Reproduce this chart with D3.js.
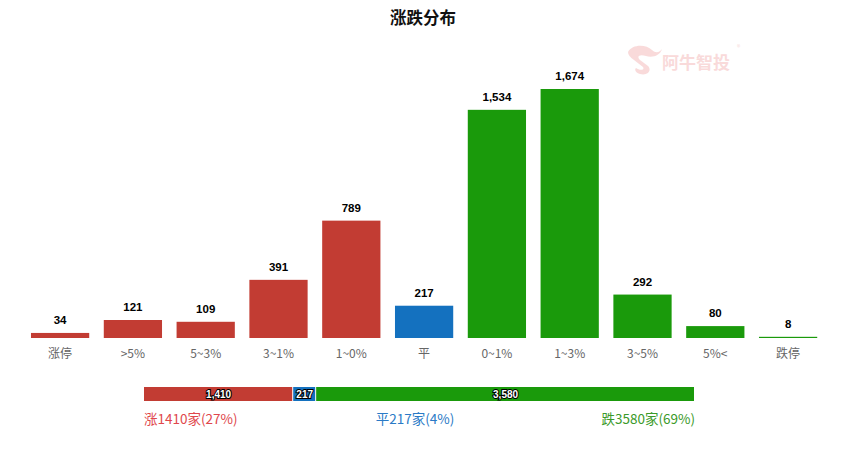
<!DOCTYPE html>
<html><head><meta charset="utf-8">
<script src="https://cdn.jsdelivr.net/npm/d3@7/dist/d3.min.js"></script>
<style>body{margin:0;background:#fff;font-family:"Noto Sans CJK SC","Microsoft YaHei",sans-serif}</style>
</head><body><svg id="c" width="866" height="451"></svg>
<script>
const categories = ["涨停", ">5%", "5~3%", "3~1%", "1~0%", "平", "0~1%", "1~3%", "3~5%", "5%<", "跌停"];
const values = [34, 121, 109, 391, 789, 217, 1534, 1674, 292, 80, 8];
const groups = ["up", "up", "up", "up", "up", "flat", "down", "down", "down", "down", "down"];
const summaryKeys = ["up", "flat", "down"];
const summaryValues = [1410, 217, 3580];
const summaryNames = ["涨", "平", "跌"];
const colors = {up: "#c23c33", flat: "#1471bf", down: "#1a9a0b"};
const textColors = {up: "#e0474c", flat: "#2a7ac6", down: "#3b9a2a"};

const svg = d3.select("#c");
const font = '"Noto Sans CJK SC", sans-serif';

svg.append("text").attr("x", 423).attr("y", 24).attr("text-anchor", "middle")
  .attr("font-size", 16.5).attr("font-weight", "bold").attr("font-family", font).attr("fill", "#111").text("涨跌分布");

// watermark
const wm = svg.append("g").attr("opacity", 0.38);
wm.append("path").attr("d", "M628,52 C632,44 646,44 652,50 C656,54 660,52 662,49 C660,56 652,58 646,56 C640,54 636,56 640,60 L648,66 C652,70 648,76 640,74 C636,73 634,70 636,68 C640,71 645,70 643,67 L634,60 C630,57 628,55 628,52 Z")
  .attr("fill", "#f0a0a0");
wm.append("text").attr("x", 662).attr("y", 69).attr("font-size", 17).attr("font-weight", "bold")
  .attr("font-family", font).attr("fill", "#f0a0a0").text("阿牛智投");
wm.append("text").attr("x", 737).attr("y", 50).attr("font-size", 7).attr("font-family", font).attr("fill", "#f0a0a0").text("®");

const x = d3.scaleBand().domain(categories).range([23.7, 824.5]).paddingInner(0.2).paddingOuter(0.1);
const y = d3.scaleLinear().domain([0, 1674]).range([338, 89]);

const g = svg.append("g");
g.selectAll("rect.bar").data(categories).enter().append("rect")
  .attr("x", d => x(d)).attr("width", x.bandwidth())
  .attr("y", (d, i) => Math.min(y(values[i]), 337))
  .attr("height", (d, i) => Math.max(y(0) - y(values[i]), 1))
  .attr("fill", (d, i) => colors[groups[i]]);

g.selectAll("text.val").data(categories).enter().append("text")
  .attr("x", d => x(d) + x.bandwidth() / 2)
  .attr("y", (d, i) => Math.min(y(values[i]), 337) - 9)
  .attr("text-anchor", "middle").attr("font-size", 11.5).attr("font-weight", "bold")
  .attr("font-family", "Arial, 'Liberation Sans', sans-serif").attr("fill", "#000")
  .text((d, i) => d3.format(",")(values[i]));

const xAxis = d3.axisBottom(x).tickSize(0).tickPadding(10);
const ax = svg.append("g").attr("transform", "translate(0,339)").call(xAxis);
ax.select(".domain").remove();
ax.selectAll("text").attr("font-size", 12).attr("fill", "#666").attr("font-family", font);

// summary stacked bar
const total = d3.sum(summaryValues);
const xs = d3.scaleLinear().domain([0, total]).range([144, 695]);
let cum = 0;
const segs = summaryValues.map((v, i) => { const s = {k: summaryKeys[i], v, x0: cum, x1: cum + v}; cum += v; return s; });
const sb = svg.append("g");
sb.selectAll("rect").data(segs).enter().append("rect")
  .attr("x", d => xs(d.x0)).attr("width", d => xs(d.x1) - xs(d.x0) - 1)
  .attr("y", 387).attr("height", 14).attr("fill", d => colors[d.k]);
sb.selectAll("text").data(segs).enter().append("text")
  .attr("x", d => (xs(d.x0) + xs(d.x1)) / 2).attr("y", 398)
  .attr("text-anchor", "middle").attr("font-size", 10).attr("font-weight", "bold")
  .attr("font-family", "Arial, 'Liberation Sans', sans-serif")
  .attr("fill", "#fff").attr("stroke", "#000").attr("stroke-width", 2).attr("paint-order", "stroke")
  .text(d => d3.format(",")(d.v));

const anchors = ["start", "middle", "end"];
const ax2 = [144, 415, 695];
svg.selectAll("text.sum").data(segs).enter().append("text")
  .attr("x", (d, i) => ax2[i]).attr("y", 424).attr("text-anchor", (d, i) => anchors[i])
  .attr("font-size", 13.5).attr("font-family", font).attr("fill", d => textColors[d.k])
  .text((d, i) => summaryNames[i] + d.v + "家(" + Math.round(d.v / total * 100) + "%)");
</script></body></html>
